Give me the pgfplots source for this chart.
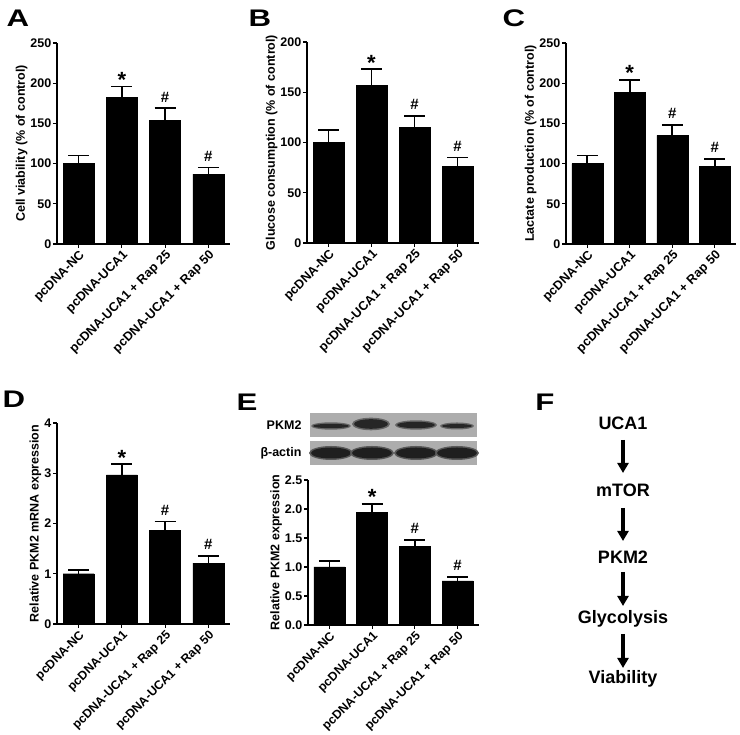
\documentclass[border=0pt]{standalone}
\usepackage{fontspec}
\setmainfont{Liberation Sans}
\usepackage{pgfplots}
\pgfplotsset{compat=1.18}
\usetikzlibrary{arrows.meta}

\pgfplotsset{
 panel/.style={
  scale only axis, anchor=south west,
  axis lines=left, axis line style={-, line width=1.2pt},
  xmin=-0.5, xmax=3.5, ymin=0,
  xtick={0,1,2,3},
  xticklabels={pcDNA-NC, pcDNA-UCA1, pcDNA-UCA1 + Rap 25, pcDNA-UCA1 + Rap 50},
  xticklabel style={rotate=45, anchor=north east, inner sep=1pt, font=\bfseries\fontsize{12.7}{13}\selectfont},
  yticklabel style={font=\bfseries\fontsize{12.5}{13}\selectfont, inner sep=1.5pt},
  /pgf/number format/assume math mode=true,
  tick align=outside, major tick length=4pt, tick style={line width=1.2pt, black},
  ylabel style={font=\bfseries\fontsize{12.5}{13}\selectfont, yshift=-2pt},
  clip=false,
 },
 bars/.style={ybar, fill=black, draw=black, bar width=31pt,
   error bars/y dir=plus, error bars/y explicit,
   error bars/error mark options={rotate=90, mark size=10.5pt, line width=1.7pt},
   error bars/error bar style={line width=1.7pt}},
}
\newcommand{\sigstar}[2]{\node[font=\bfseries\fontsize{22}{22}\selectfont, anchor=base, yshift=-1pt] at (axis cs:#1,#2) {*};}
\newcommand{\sighash}[2]{\node[font=\bfseries\fontsize{15}{15}\selectfont, anchor=base, yshift=6pt] at (axis cs:#1,#2) {\#};}
\newcommand{\plab}[3]{\node[font=\bfseries\fontsize{24}{24}\selectfont] at (#1pt,#2pt) {\scalebox{1.3}[1]{#3}};}

\begin{document}
\begin{tikzpicture}
\path[use as bounding box] (0,0) rectangle (740pt,735pt);

% Panel A
\begin{axis}[panel, at={(57pt,491pt)}, width=173pt, height=201pt,
  ymax=250, ytick={0,50,100,150,200,250}, ylabel={Cell viability (\% of control)}]
\addplot[bars] coordinates {(0,100) +- (0,10) (1,182) +- (0,14) (2,154) +- (0,15) (3,87) +- (0,8)};
\sigstar{1}{196}
\sighash{2}{169}
\sighash{3}{95}
\end{axis}

% Panel B
\begin{axis}[panel, at={(307pt,492pt)}, width=172pt, height=201pt,
  ymax=200, ytick={0,50,100,150,200}, ylabel={Glucose consumption (\% of control)}]
\addplot[bars] coordinates {(0,100) +- (0,12.5) (1,157) +- (0,16) (2,115) +- (0,11.5) (3,76) +- (0,9)};
\sigstar{1}{173}
\sighash{2}{126.5}
\sighash{3}{85}
\end{axis}

% Panel C
\begin{axis}[panel, at={(566pt,491pt)}, width=170pt, height=201pt,
  ymax=250, ytick={0,50,100,150,200,250}, ylabel={Lactate production (\% of control)}]
\addplot[bars] coordinates {(0,100) +- (0,10) (1,189) +- (0,15) (2,135) +- (0,13) (3,97) +- (0,9)};
\sigstar{1}{204}
\sighash{2}{148}
\sighash{3}{106}
\end{axis}

% Panel D
\begin{axis}[panel, at={(57pt,111pt)}, width=173pt, height=201pt,
  ymax=4, ytick={0,1,2,3,4}, ylabel={Relative PKM2 mRNA expression},
  xticklabel style={font=\bfseries\fontsize{12.3}{13}\selectfont}]
\addplot[bars] coordinates {(0,1.00) +- (0,0.08) (1,2.97) +- (0,0.21) (2,1.86) +- (0,0.18) (3,1.21) +- (0,0.15)};
\sigstar{1}{3.18}
\sighash{2}{2.04}
\sighash{3}{1.36}
\end{axis}

% Panel E
\begin{axis}[panel, at={(308pt,110pt)}, width=171pt, height=145pt,
  ymax=2.5, ytick={0,0.5,1,1.5,2,2.5},
  yticklabel style={/pgf/number format/.cd, fixed, fixed zerofill, precision=1},
  ylabel={Relative PKM2 expression},
  xticklabel style={font=\bfseries\fontsize{12.3}{13}\selectfont}]
\addplot[bars] coordinates {(0,1.00) +- (0,0.10) (1,1.94) +- (0,0.15) (2,1.36) +- (0,0.11) (3,0.76) +- (0,0.07)};
\sigstar{1}{2.09}
\sighash{2}{1.47}
\sighash{3}{0.83}
\end{axis}

% Western blot (decoration)
\fill[black!32] (310pt,298pt) rectangle (477pt,322pt);
\fill[black!32] (310pt,270pt) rectangle (477pt,294pt);
\foreach \cx/\cy/\w/\h in {331/309/18/2.2, 371/311/17/4.8, 416/310/19/3.2, 457/309/15/2} {
  \fill[black!60] (\cx pt,\cy pt) ellipse ({\w pt+2pt} and {\h pt+1.5pt});
  \fill[black!85] (\cx pt,\cy pt) ellipse ({\w pt} and {\h pt});
}
\foreach \cx in {331,372,416,457} {
  \fill[black!65] (\cx pt,282pt) ellipse (22pt and 7pt);
  \fill[black!88] (\cx pt,282pt) ellipse (20pt and 5.5pt);
}
\node[font=\bfseries\fontsize{12.5}{12.5}\selectfont, anchor=east] at (305pt,310pt) {PKM2};
\node[font=\bfseries\fontsize{12.5}{12.5}\selectfont, anchor=east] at (305pt,282pt) {β-actin};

% Panel F
\begin{scope}[every node/.style={font=\bfseries\fontsize{18}{18}\selectfont}]
\node at (623pt,312pt) {UCA1};
\node at (623pt,245pt) {mTOR};
\node at (623pt,178pt) {PKM2};
\node at (623pt,116pt) {Glycolysis};
\node at (623pt,56pt) {Viability};
\end{scope}
\foreach \a/\b in {295/262, 227/194, 163/129, 101/67} {
  \draw[line width=3.5pt, -{Triangle[width=11pt,length=10pt]}] (623pt,\a pt) -- (623pt,\b pt);
}

% Panel letters
\plab{18}{717}{A}
\plab{260}{717}{B}
\plab{514}{717}{C}
\plab{14}{336}{D}
\plab{247}{333}{E}
\plab{545}{333}{F}
\end{tikzpicture}
\end{document}
